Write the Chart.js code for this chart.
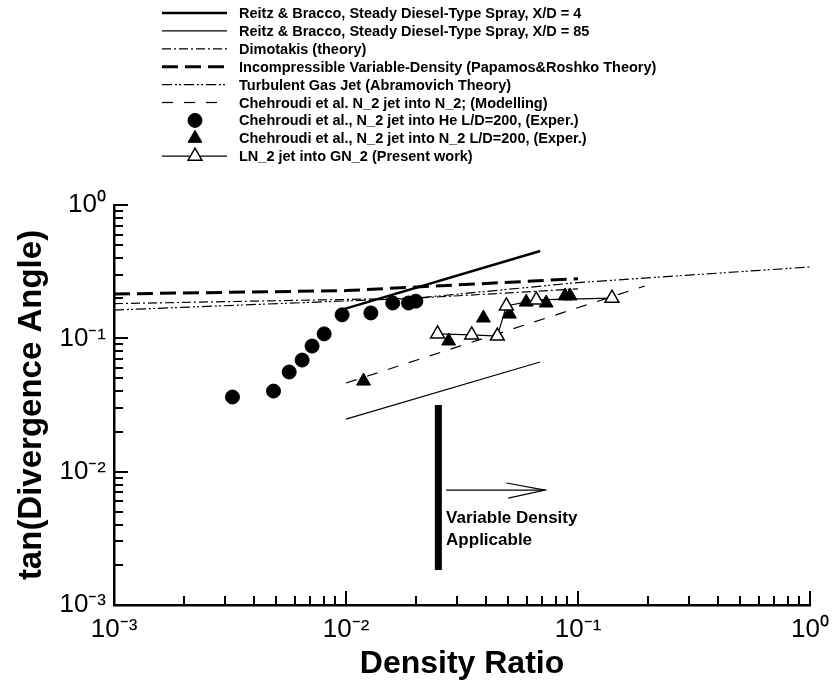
<!DOCTYPE html>
<html>
<head>
<meta charset="utf-8">
<title>tan(Divergence Angle) vs Density Ratio</title>
<script src="https://cdn.jsdelivr.net/npm/chart.js@4.4.1/dist/chart.umd.min.js"></script>
<style>
body{margin:0;background:#fff;}
canvas{display:block;}
</style>
</head>
<body>
<canvas id="chart" width="838" height="695"></canvas>
<script>

// values (x = density ratio, y = tan(divergence angle))
const reitz4X=[0.0097,0.0687];
const reitz4Y=[0.165,0.452];
const reitz85X=[0.01,0.0686];
const reitz85Y=[0.0248,0.0664];
const dimotakisX=[0.001,0.02,0.1];
const dimotakisY=[0.182,0.2,0.235];
const papamosX=[0.001,0.01,0.1];
const papamosY=[0.215,0.228,0.28];
const abramovichX=[0.001,0.02,0.1,1];
const abramovichY=[0.163,0.2,0.262,0.343];
const modelX=[0.01,0.194];
const modelY=[0.0462,0.247];
const heX=[0.00324,0.00487,0.00569,0.00647,0.00714,0.00805,0.00962,0.0128,0.0159,0.0186,0.02];
const heY=[0.0363,0.0402,0.0559,0.0687,0.0875,0.108,0.15,0.155,0.184,0.184,0.19];
const n2X=[0.0119,0.0277,0.0391,0.0506,0.0598,0.0729,0.0879,0.0924];
const n2Y=[0.0478,0.0955,0.142,0.152,0.187,0.184,0.208,0.208];
const lnX=[0.0248,0.0348,0.0449,0.0491,0.0661,0.14];
const lnY=[0.108,0.106,0.104,0.175,0.194,0.2];

// "variable density applicable" marker: bar, arrow and arrow head
const barX=[0.025,0.025];
const barY=[0.0316,0.00183];
const arrowX=[0.027,0.0721];
const arrowY=[0.00728,0.00728];
const headX=[0.0491,0.0721,0.05];
const headY=[0.00822,0.00728,0.00634];
const noteX=0.027;
const noteY=[0.00449,0.00307];
const noteLines=["Variable Density","Applicable"];

const decades=[0.001,0.01,0.1,1];
const decadeLabels=["10\u207B\u00B3","10\u207B\u00B2","10\u207B\u00B9","10\u2070"];

const seriesNames=[
"Reitz & Bracco, Steady Diesel-Type Spray, X/D = 4",
"Reitz & Bracco, Steady Diesel-Type Spray, X/D = 85",
"Dimotakis (theory)",
"Incompressible Variable-Density (Papamos&Roshko Theory)",
"Turbulent Gas Jet (Abramovich Theory)",
"Chehroudi et al. N_2 jet into N_2; (Modelling)",
"Chehroudi et al., N_2 jet into He L/D=200, (Exper.)",
"Chehroudi et al., N_2 jet into N_2 L/D=200, (Exper.)",
"LN_2 jet into GN_2 (Present work)"
];

function pts(xs,ys){return xs.map((x,i)=>({x:x,y:ys[i]}));}

function line(label,xs,ys,w,dash){
return {label:label,data:pts(xs,ys),showLine:true,borderColor:"#000",backgroundColor:"#000",
borderWidth:w,borderDash:dash,pointRadius:0,order:2};
}

const datasets=[
line(seriesNames[0],reitz4X,reitz4Y,2.5,[]),
line(seriesNames[1],reitz85X,reitz85Y,1.2,[]),
line(seriesNames[2],dimotakisX,dimotakisY,1.2,[9,3,2,3]),
line(seriesNames[3],papamosX,papamosY,3,[16,7]),
line(seriesNames[4],abramovichX,abramovichY,1.2,[10,3,2,2,2,3]),
line(seriesNames[5],modelX,modelY,1.2,[11,11]),
{label:seriesNames[6],data:pts(heX,heY),showLine:false,pointStyle:"circle",pointRadius:7,
backgroundColor:"#000",borderColor:"#000",borderWidth:1,order:1},
{label:seriesNames[7],data:pts(n2X,n2Y),showLine:false,pointStyle:"triangle",pointRadius:8,
backgroundColor:"#000",borderColor:"#000",borderWidth:1,order:1},
{label:seriesNames[8],data:pts(lnX,lnY),showLine:true,pointStyle:"triangle",pointRadius:8,
backgroundColor:"#fff",borderColor:"#000",borderWidth:1.2,pointBorderWidth:1.5,order:0},
{label:"",data:pts(barX,barY),showLine:true,borderColor:"#000",borderWidth:7,pointRadius:0,order:2,noLegend:true},
{label:"",data:pts(arrowX,arrowY),showLine:true,borderColor:"#000",borderWidth:1.2,pointRadius:0,order:2,noLegend:true},
{label:"",data:pts(headX,headY),showLine:true,borderColor:"#000",borderWidth:1.2,pointRadius:0,order:2,noLegend:true}
];

// legend stacked in one column at the top, like the original
const legendPlugin={
id:"stackLegend",
afterDraw(chart){
const ctx=chart.ctx;
ctx.save();
ctx.font="bold 14.5px 'Liberation Sans', Arial, sans-serif";
ctx.textBaseline="middle";
chart.data.datasets.forEach((ds,i)=>{
if(ds.noLegend)return;
const y=13+i*17.9;
ctx.strokeStyle="#000";
ctx.fillStyle="#000";
if(ds.showLine){
ctx.lineWidth=ds.borderWidth;
ctx.setLineDash(ds.borderDash||[]);
ctx.beginPath();ctx.moveTo(162,y);ctx.lineTo(227,y);ctx.stroke();
ctx.setLineDash([]);
}
if(ds.pointRadius>0){
ctx.fillStyle=ds.backgroundColor;
ctx.lineWidth=ds.pointBorderWidth||ds.borderWidth;
Chart.helpers.drawPoint(ctx,{pointStyle:ds.pointStyle,radius:ds.pointRadius,rotation:0,borderWidth:ctx.lineWidth},195,y);
}
ctx.fillStyle="#000";
ctx.fillText(ds.label,239,y+1);
});
ctx.restore();
}
};

// inward log ticks and the note text
const ticksPlugin={
id:"inTicks",
afterDraw(chart){
const ctx=chart.ctx;
const xs=chart.scales.x,ys=chart.scales.y;
const area=chart.chartArea;
ctx.save();
ctx.strokeStyle="#000";
ctx.lineWidth=2;
decades.forEach(d=>{
for(let m=1;m<=9;m++){
const v=d*m;
if(v>1.0001)break;
const len=m===1?14:9;
const px=Math.round(xs.getPixelForValue(v));
ctx.beginPath();ctx.moveTo(px,area.bottom);ctx.lineTo(px,area.bottom-len);ctx.stroke();
const py=Math.round(ys.getPixelForValue(v));
ctx.beginPath();ctx.moveTo(area.left,py);ctx.lineTo(area.left+len,py);ctx.stroke();
}
});
ctx.fillStyle="#000";
ctx.font="bold 17px 'Liberation Sans', Arial, sans-serif";
ctx.textBaseline="middle";
noteLines.forEach((t,i)=>{
ctx.fillText(t,xs.getPixelForValue(noteX),ys.getPixelForValue(noteY[i]));
});
ctx.restore();
}
};

Chart.defaults.font.family="'Liberation Sans', Arial, sans-serif";
Chart.defaults.color="#000";

function axisTicks(scale){
scale.ticks=decades.map(v=>({value:v}));
}

new Chart(document.getElementById("chart"),{
type:"scatter",
data:{datasets:datasets},
options:{
responsive:false,
animation:false,
layout:{padding:{top:205,right:25,left:0,bottom:0}},
plugins:{legend:{display:false},tooltip:{enabled:false}},
scales:{
x:{
type:"logarithmic",min:0.001,max:1,
grid:{display:false,drawTicks:false},
border:{color:"#000",width:2.5},
afterBuildTicks:axisTicks,
afterFit:s=>{s.height=90;},
ticks:{padding:9,font:{size:26},maxRotation:0,autoSkip:false,
callback:v=>decadeLabels[decades.indexOf(v)]},
title:{display:true,text:"Density Ratio",font:{size:32,weight:"bold"},padding:{bottom:12,top:0}}
},
y:{
type:"logarithmic",min:0.001,max:1,
grid:{display:false,drawTicks:false},
border:{color:"#000",width:2.5},
afterBuildTicks:axisTicks,
afterFit:s=>{s.width=114;},
ticks:{padding:8,font:{size:26},autoSkip:false,
callback:v=>decadeLabels[decades.indexOf(v)]},
title:{display:true,text:"tan(Divergence Angle)",font:{size:33,weight:"bold"},padding:{top:12,bottom:0}}
}
}
},
plugins:[legendPlugin,ticksPlugin]
});
</script>
</body>
</html>
